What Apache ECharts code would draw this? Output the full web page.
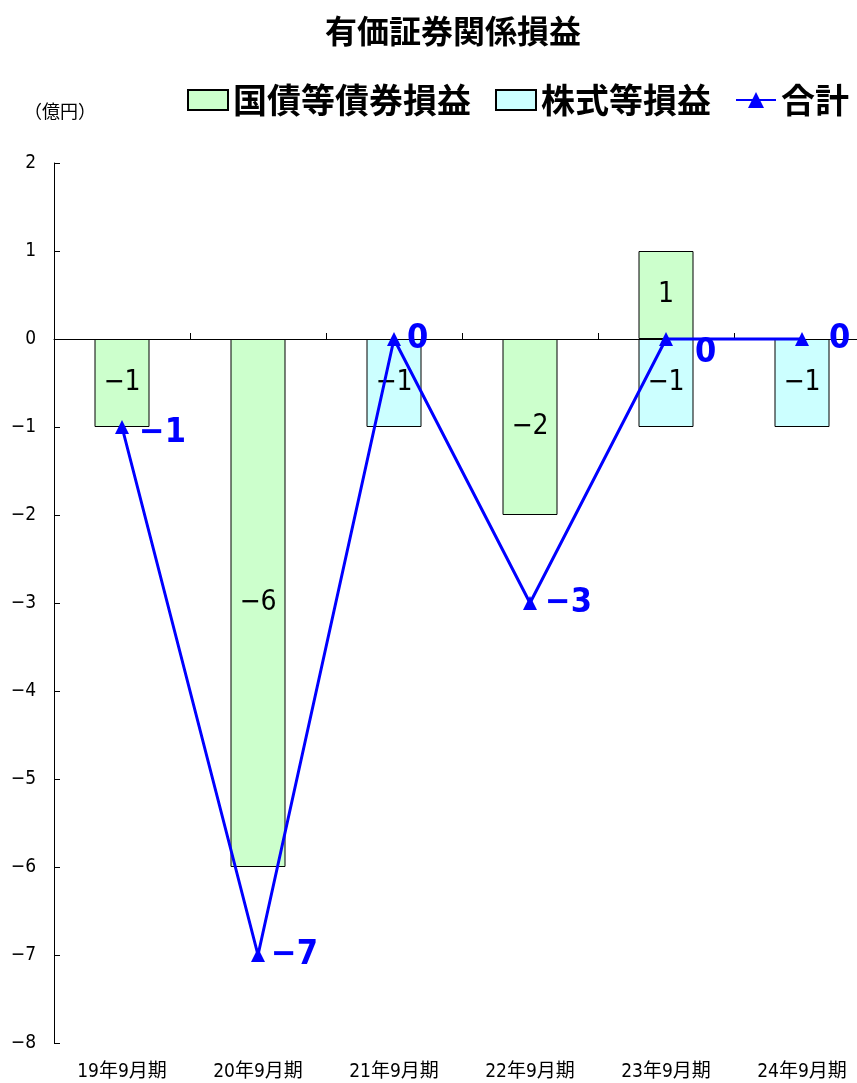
<!DOCTYPE html>
<html>
<head>
<meta charset="utf-8">
<script src="https://cdn.jsdelivr.net/npm/echarts@6/dist/echarts.min.js"></script>
<style>
  html, body { margin: 0; padding: 0; background: #fff; overflow: hidden; }
  #chart { width: 880px; height: 1083px; }
</style>
</head>
<body>
<div id="chart"></div>
<script>
const categories = ['19年9月期', '20年9月期', '21年9月期', '22年9月期', '23年9月期', '24年9月期']
const bondGains = [-1, -6, null, -2, 1, null]
const stockGains = [null, null, -1, null, -1, -1]
const totals = [-1, -7, 0, -3, 0, 0]
const yTicks = [2, 1, 0, -1, -2, -3, -4, -5, -6, -7, -8]

const cjk = '"Noto Sans CJK JP", sans-serif'
const narrow = '"Liberation Sans Narrow", "DejaVu Sans Condensed", "Noto Sans CJK JP", sans-serif'
const minus = (v) => String(v).replace('-', '−')

// where the total labels sit relative to their points
const totalLabelOffsets = [[4, 6], [0, 0], [0, 0], [2, 0], [16, 14], [14, 0]]

const chart = echarts.init(document.getElementById('chart'), null, { renderer: 'canvas' })

const option = {
  animation: false,
  title: {
    text: '有価証券関係損益',
    left: 448,
    textAlign: 'center',
    top: 10,
    textStyle: { fontFamily: cjk, fontSize: 32, fontWeight: 'bold', color: '#000' }
  },
  legend: {
    top: 78,
    left: 182,
    itemGap: 24,
    itemWidth: 40,
    itemHeight: 20,
    textStyle: { fontFamily: cjk, fontSize: 34, fontWeight: 'bold', color: '#000' },
    data: [
      { name: '国債等債券損益', icon: 'rect' },
      { name: '株式等損益', icon: 'rect' },
      { name: '合計' }
    ]
  },
  graphic: [{
    type: 'text',
    left: 24,
    top: 102,
    style: { text: '（億円）', font: '18px "Noto Sans CJK JP"', fill: '#000' }
  }],
  grid: { left: 54, top: 163, width: 816, height: 880 },
  xAxis: [
    {
      type: 'category',
      data: categories,
      position: 'bottom',
      axisLine: { show: false, onZero: false },
      axisTick: { show: false },
      axisLabel: { fontFamily: narrow, fontSize: 19, color: '#000', margin: 20 }
    },
    {
      type: 'category',
      data: categories,
      position: 'bottom',
      axisLine: { onZero: true, lineStyle: { color: '#000', width: 1 } },
      axisTick: { show: true, inside: true, length: 6, lineStyle: { color: '#000' } },
      axisLabel: { show: false }
    }
  ],
  yAxis: {
    type: 'value',
    min: -8,
    max: 2,
    interval: 1,
    splitLine: { show: false },
    axisLine: { show: true, lineStyle: { color: '#000' } },
    axisTick: { show: true, inside: true, length: 6, lineStyle: { color: '#000' } },
    axisLabel: {
      fontFamily: narrow, fontSize: 19, color: '#000', margin: 18,
      formatter: (v) => yTicks.includes(v) ? minus(v) : ''
    }
  },
  series: [
    {
      name: '国債等債券損益',
      type: 'bar',
      stack: 'gain',
      barWidth: 55,
      data: bondGains,
      itemStyle: { color: '#ccffcc', borderColor: '#000', borderWidth: 1 },
      label: {
        show: true, position: 'inside',
        fontFamily: narrow, fontSize: 28, color: '#000',
        formatter: (p) => minus(p.value)
      }
    },
    {
      name: '株式等損益',
      type: 'bar',
      stack: 'gain',
      barWidth: 55,
      data: stockGains,
      itemStyle: { color: '#ccffff', borderColor: '#000', borderWidth: 1 },
      label: {
        show: true, position: 'inside',
        fontFamily: narrow, fontSize: 28, color: '#000',
        formatter: (p) => minus(p.value)
      }
    },
    {
      name: '合計',
      type: 'line',
      data: totals.map((v, i) => ({ value: v, label: { offset: totalLabelOffsets[i] } })),
      symbol: 'triangle',
      symbolSize: 14,
      z: 5,
      lineStyle: { color: '#0000ff', width: 3 },
      itemStyle: { color: '#0000ff' },
      label: {
        show: true, position: 'right', distance: 6,
        fontFamily: narrow, fontSize: 34, fontWeight: 'bold', color: '#0000ff',
        formatter: (p) => minus(p.value)
      }
    }
  ]
}

chart.setOption(option)
</script>
</body>
</html>
